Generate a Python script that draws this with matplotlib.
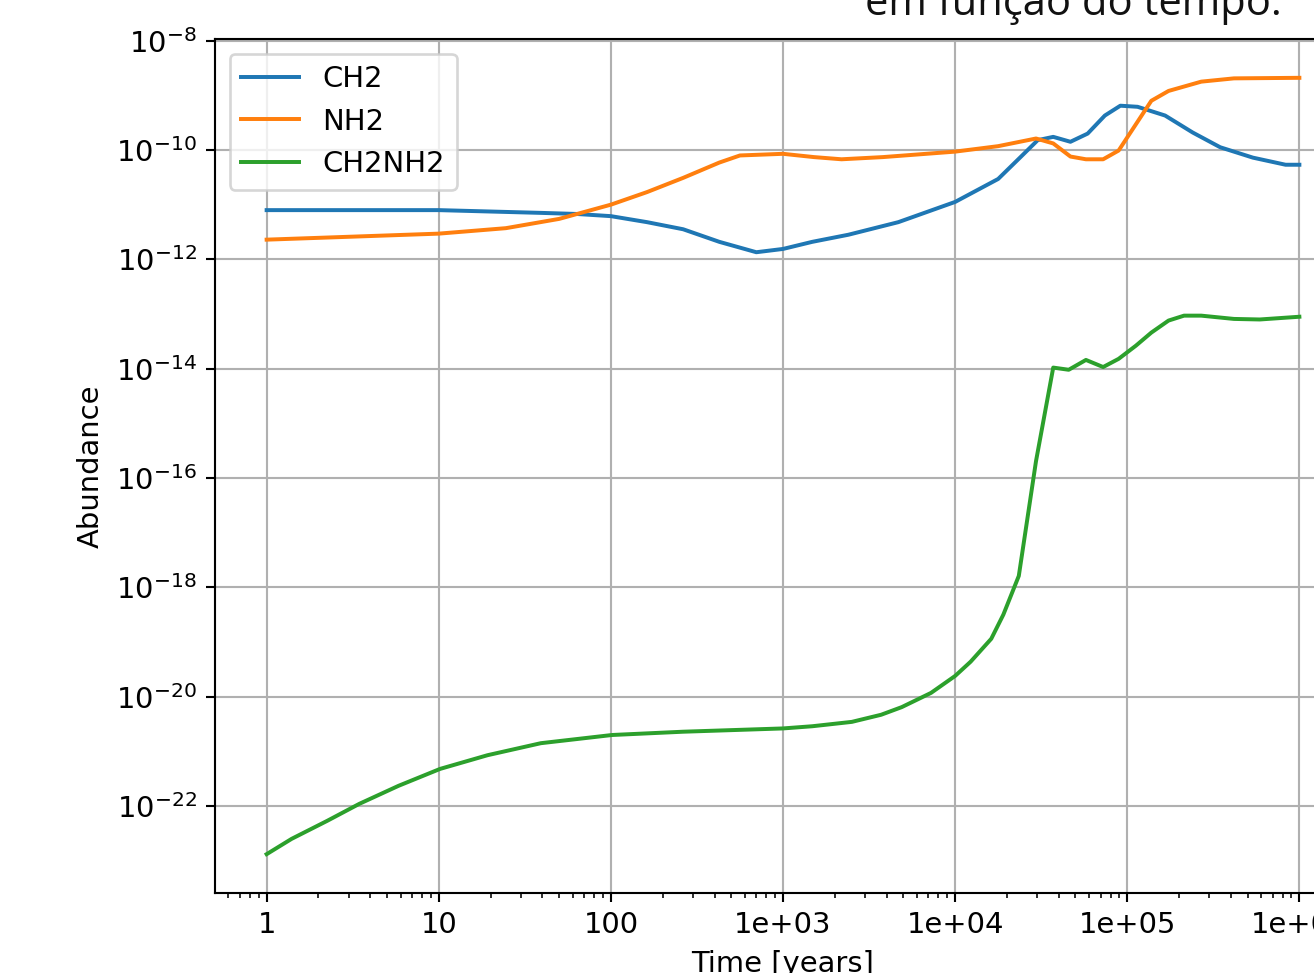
import numpy as np
import matplotlib
matplotlib.use('Agg')
import matplotlib.pyplot as plt
import matplotlib.ticker as ticker

# log10(tempo [anos]) e log10(abundancia)
t_ch2 = [0.0, 1.0, 1.59, 1.8, 2.0, 2.21, 2.42, 2.63, 2.845, 3.0, 3.17, 3.38, 3.67,
         4.0, 4.25, 4.38, 4.48, 4.57, 4.67, 4.77, 4.87, 4.96, 5.06, 5.22, 5.38,
         5.54, 5.73, 5.92, 6.0]
a_ch2 = [-11.10, -11.10, -11.15, -11.17, -11.21, -11.32, -11.45, -11.68, -11.87,
         -11.81, -11.68, -11.55, -11.32, -10.95, -10.53, -10.13, -9.82, -9.76, -9.85,
         -9.70, -9.37, -9.19, -9.21, -9.37, -9.68, -9.95, -10.14, -10.27, -10.27]

t_nh2 = [0.0, 1.0, 1.39, 1.70, 2.0, 2.21, 2.42, 2.63, 2.75, 3.0, 3.18, 3.34, 3.58,
         4.0, 4.25, 4.47, 4.57, 4.67, 4.76, 4.86, 4.95, 5.14, 5.24, 5.43, 5.62, 6.0]
a_nh2 = [-11.64, -11.53, -11.43, -11.26, -11.0, -10.77, -10.51, -10.23, -10.10,
         -10.07, -10.13, -10.17, -10.13, -10.03, -9.93, -9.79, -9.88, -10.12, -10.17,
         -10.17, -10.01, -9.10, -8.92, -8.75, -8.69, -8.68]

t_ch2nh2 = [0.0, 0.145, 0.352, 0.538, 0.766, 1.008, 1.283, 1.593, 2.007, 2.42, 3.0,
            3.17, 3.4, 3.57, 3.69, 3.86, 4.0, 4.09, 4.21, 4.28, 4.37, 4.47, 4.57,
            4.66, 4.76, 4.86, 4.95, 5.05, 5.14, 5.24, 5.33, 5.43, 5.62, 5.77, 6.0]
a_ch2nh2 = [-22.88, -22.60, -22.27, -21.96, -21.63, -21.32, -21.07, -20.85, -20.70,
            -20.64, -20.58, -20.54, -20.46, -20.33, -20.19, -19.93, -19.62, -19.36,
            -18.94, -18.50, -17.79, -15.69, -13.98, -14.02, -13.84, -13.97, -13.82,
            -13.58, -13.34, -13.12, -13.03, -13.03, -13.09, -13.10, -13.05]

series = [("CH2", t_ch2, a_ch2), ("NH2", t_nh2, a_nh2), ("CH2NH2", t_ch2nh2, a_ch2nh2)]

plt.rcParams['font.size'] = 11

W, H, DPI = 1314, 973, 190
fig = plt.figure(figsize=(W / DPI, H / DPI), dpi=DPI)
# eixo recortado a direita, como no print original
ax = fig.add_axes([215 / W, (H - 893) / H, (1351 - 215) / W, (893 - 39) / H])

for name, t, a in series:
    ax.plot(10 ** np.array(t), 10 ** np.array(a), label=name)

ax.set_xscale('log')
ax.set_yscale('log')
ax.xaxis.set_major_formatter(ticker.FuncFormatter(lambda v, p: '%.3g' % v))
ax.xaxis.set_minor_formatter(ticker.NullFormatter())
ax.set_yticks([10.0 ** e for e in range(-22, -7, 2)])
ax.yaxis.set_minor_locator(ticker.NullLocator())
ax.set_xlabel("Time [years]")
ax.set_ylabel("Abundance")
ax.grid(True)
ax.legend(loc='upper left')

fig.text(865 / W, (H - 15) / H, "em função do tempo.", fontsize=15.8,
         family=['Open Sans', 'DejaVu Sans'], color='#111111', va='baseline', ha='left')

fig.savefig('out.png', dpi=DPI)
